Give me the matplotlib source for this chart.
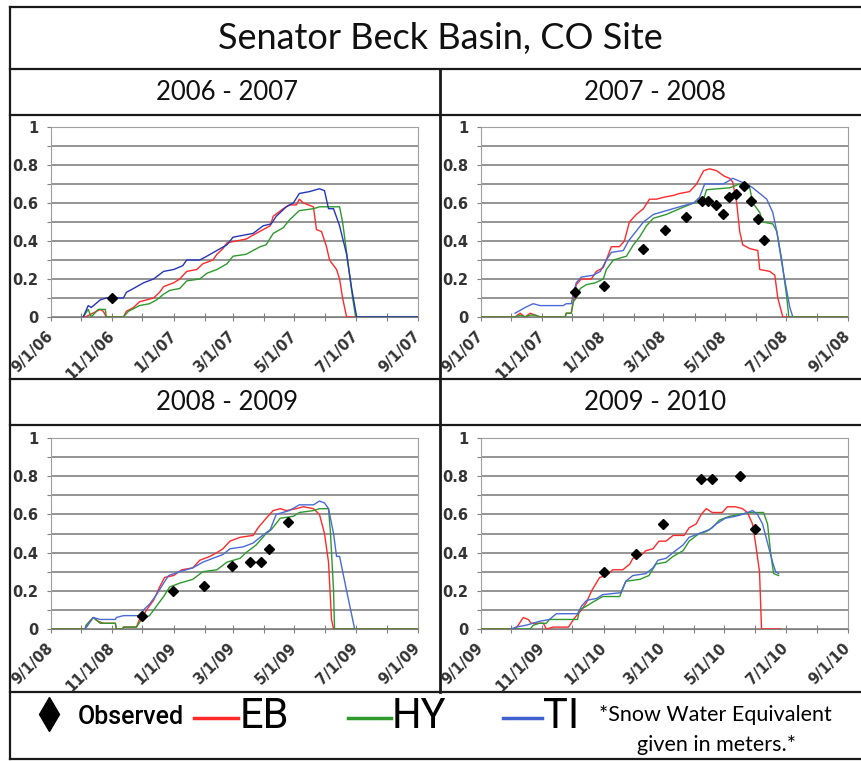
import numpy as np
import matplotlib
matplotlib.use("Agg")
import matplotlib.pyplot as plt
import matplotlib.dates as mdates
from matplotlib.ticker import MultipleLocator, FuncFormatter

# season starts and titles
seasons = ["2006 - 2007", "2007 - 2008", "2008 - 2009", "2009 - 2010"]
season_starts = ["2006-09-01", "2007-09-01", "2008-09-01", "2009-09-01"]

# SWE (m) by day since Sep 1 -- 2006-2007
eb_0607_d = [32, 34, 49, 52, 55, 72, 75, 82, 88, 102, 108, 112, 122, 128, 135, 145, 151, 161, 165, 171, 175,
             184, 194, 204, 211, 218, 221, 231, 237, 244, 247, 251, 261, 264, 269, 274, 277, 284, 287, 290, 294, 365]
eb_0607_v = [0, 0, 0.04, 0.03, 0, 0, 0.03, 0.05, 0.08, 0.10, 0.13, 0.16, 0.18, 0.20, 0.24, 0.25, 0.28, 0.30, 0.33,
             0.36, 0.39, 0.40, 0.41, 0.44, 0.46, 0.48, 0.53, 0.57, 0.59, 0.59, 0.62, 0.60, 0.58, 0.46, 0.45, 0.37,
             0.30, 0.25, 0.20, 0.10, 0, 0]
hy_0607_d = [32, 37, 40, 47, 54, 55, 72, 77, 88, 98, 105, 112, 118, 128, 135, 148, 155, 165, 175, 181, 194, 201,
             208, 214, 221, 231, 237, 247, 261, 267, 287, 290, 295, 300, 303, 365]
hy_0607_v = [0, 0.04, 0, 0.04, 0.04, 0, 0, 0.03, 0.06, 0.07, 0.09, 0.12, 0.14, 0.15, 0.19, 0.20, 0.23, 0.25, 0.28,
             0.32, 0.33, 0.35, 0.37, 0.38, 0.44, 0.47, 0.51, 0.56, 0.57, 0.58, 0.58, 0.50, 0.30, 0.10, 0, 0]
ti_0607_d = [32, 37, 40, 49, 55, 72, 75, 82, 92, 102, 112, 122, 131, 135, 148, 155, 165, 175, 181, 191, 201, 211,
             219, 224, 234, 241, 247, 257, 267, 272, 276, 281, 287, 294, 299, 304, 365]
ti_0607_v = [0, 0.06, 0.05, 0.09, 0.10, 0.10, 0.13, 0.15, 0.18, 0.20, 0.24, 0.25, 0.27, 0.30, 0.30, 0.32, 0.35,
             0.38, 0.42, 0.43, 0.44, 0.48, 0.49, 0.53, 0.58, 0.60, 0.65, 0.66, 0.675, 0.665, 0.57, 0.57, 0.48,
             0.33, 0.15, 0, 0]
obs_0607_d = [61]
obs_0607_v = [0.10]

# 2007-2008
eb_0708_d = [0, 34, 39, 44, 49, 54, 59, 84, 85, 90, 92, 95, 100, 110, 115, 122, 125, 130, 138, 143, 148, 155, 162,
             168, 175, 182, 192, 198, 208, 215, 222, 228, 235, 243, 248, 251, 255, 258, 261, 268, 276, 278, 288,
             293, 296, 301, 366]
eb_0708_v = [0, 0, 0.02, 0, 0.02, 0.01, 0, 0, 0.02, 0.02, 0.08, 0.17, 0.20, 0.20, 0.24, 0.26, 0.30, 0.37, 0.37,
             0.40, 0.50, 0.54, 0.57, 0.62, 0.62, 0.63, 0.64, 0.65, 0.66, 0.70, 0.77, 0.78, 0.77, 0.74, 0.73, 0.71,
             0.60, 0.45, 0.38, 0.36, 0.35, 0.25, 0.24, 0.22, 0.10, 0, 0]
hy_0708_d = [0, 34, 39, 44, 49, 54, 59, 84, 85, 90, 92, 95, 99, 105, 114, 122, 125, 132, 145, 152, 158, 165, 172,
             185, 198, 212, 222, 225, 248, 258, 268, 271, 278, 281, 291, 295, 300, 305, 307, 366]
hy_0708_v = [0, 0, 0.01, 0, 0.01, 0.01, 0, 0, 0.02, 0.02, 0.08, 0.10, 0.15, 0.17, 0.18, 0.20, 0.25, 0.30, 0.32,
             0.38, 0.42, 0.48, 0.52, 0.54, 0.57, 0.60, 0.62, 0.67, 0.68, 0.70, 0.68, 0.60, 0.55, 0.50, 0.49, 0.45,
             0.30, 0.10, 0, 0]
ti_0708_d = [34, 44, 52, 59, 82, 85, 90, 92, 95, 100, 112, 119, 125, 130, 142, 147, 153, 162, 172, 185, 198, 212,
             218, 223, 241, 245, 251, 260, 265, 271, 278, 285, 291, 295, 301, 308, 311]
ti_0708_v = [0.02, 0.05, 0.07, 0.06, 0.06, 0.07, 0.07, 0.12, 0.18, 0.21, 0.22, 0.24, 0.30, 0.34, 0.35, 0.40, 0.44,
             0.50, 0.54, 0.56, 0.58, 0.60, 0.63, 0.70, 0.70, 0.71, 0.73, 0.71, 0.70, 0.68, 0.65, 0.62, 0.55, 0.45,
             0.25, 0.05, 0]
obs_0708_d = [94, 123, 162, 183, 204, 220, 226, 234, 241, 247, 254, 262, 269, 276, 282]
obs_0708_v = [0.13, 0.165, 0.36, 0.46, 0.525, 0.61, 0.61, 0.59, 0.54, 0.63, 0.645, 0.69, 0.61, 0.515, 0.405]

# 2008-2009
eb_0809_d = [0, 34, 35, 42, 47, 52, 64, 65, 71, 72, 85, 88, 92, 95, 102, 108, 113, 122, 130, 141, 148, 158, 165,
             171, 178, 188, 201, 206, 214, 221, 228, 234, 244, 251, 261, 267, 272, 276, 279, 281, 365]
eb_0809_v = [0, 0, 0.02, 0.06, 0.04, 0.03, 0.03, 0, 0, 0.01, 0.01, 0.05, 0.07, 0.10, 0.15, 0.22, 0.27, 0.28, 0.31,
             0.32, 0.36, 0.38, 0.40, 0.42, 0.46, 0.48, 0.49, 0.53, 0.58, 0.62, 0.63, 0.62, 0.63, 0.64, 0.63, 0.60,
             0.50, 0.35, 0.05, 0, 0]
hy_0809_d = [0, 34, 35, 42, 49, 64, 65, 71, 72, 85, 90, 98, 105, 112, 118, 128, 141, 151, 165, 175, 188, 194, 204,
             214, 219, 228, 241, 247, 261, 267, 276, 278, 281, 282, 365]
hy_0809_v = [0, 0, 0.02, 0.06, 0.03, 0.03, 0, 0, 0.01, 0.01, 0.05, 0.07, 0.12, 0.17, 0.22, 0.24, 0.26, 0.30, 0.31,
             0.35, 0.37, 0.40, 0.44, 0.50, 0.52, 0.58, 0.59, 0.61, 0.62, 0.63, 0.63, 0.50, 0.20, 0, 0]
ti_0809_d = [34, 42, 49, 64, 65, 72, 88, 92, 98, 105, 112, 117, 128, 141, 151, 161, 171, 178, 191, 201, 208, 218,
             224, 237, 247, 261, 267, 272, 276, 281, 284, 287, 294, 302]
ti_0809_v = [0, 0.06, 0.05, 0.05, 0.06, 0.07, 0.07, 0.10, 0.13, 0.18, 0.24, 0.28, 0.30, 0.32, 0.35, 0.37, 0.39,
             0.42, 0.43, 0.45, 0.48, 0.52, 0.60, 0.62, 0.65, 0.65, 0.67, 0.66, 0.63, 0.50, 0.38, 0.38, 0.20, 0]
obs_0809_d = [91, 121, 152, 180, 198, 209, 217, 236]
obs_0809_v = [0.068, 0.20, 0.227, 0.332, 0.353, 0.353, 0.418, 0.558]

# 2009-2010
eb_0910_d = [0, 34, 37, 42, 47, 50, 58, 62, 65, 72, 87, 92, 95, 100, 105, 110, 118, 125, 131, 141, 148, 151, 158,
             164, 171, 177, 184, 191, 202, 207, 214, 219, 224, 230, 240, 245, 253, 260, 265, 270, 273, 277, 279, 298]
eb_0910_v = [0, 0, 0.02, 0.06, 0.05, 0.03, 0.03, 0.03, 0, 0.01, 0.01, 0.05, 0.07, 0.10, 0.14, 0.20, 0.27, 0.28,
             0.31, 0.31, 0.34, 0.37, 0.38, 0.41, 0.42, 0.46, 0.46, 0.49, 0.49, 0.53, 0.55, 0.60, 0.63, 0.61, 0.61,
             0.64, 0.64, 0.63, 0.61, 0.55, 0.45, 0.30, 0, 0]
hy_0910_d = [0, 49, 52, 58, 65, 68, 96, 98, 105, 111, 121, 138, 144, 158, 167, 174, 184, 191, 201, 207, 217, 224,
             230, 237, 247, 257, 267, 281, 285, 288, 291, 296]
hy_0910_v = [0, 0, 0.02, 0.03, 0.03, 0.05, 0.05, 0.10, 0.12, 0.14, 0.17, 0.17, 0.25, 0.26, 0.28, 0.34, 0.35, 0.38,
             0.41, 0.46, 0.50, 0.51, 0.53, 0.57, 0.59, 0.60, 0.61, 0.61, 0.55, 0.40, 0.29, 0.28]
ti_0910_d = [30, 35, 45, 58, 68, 75, 96, 100, 105, 115, 121, 139, 144, 151, 164, 171, 176, 184, 191, 201, 207, 217,
             227, 234, 243, 253, 260, 270, 275, 280, 285, 290, 293, 296]
ti_0910_v = [0, 0.01, 0.02, 0.04, 0.05, 0.08, 0.08, 0.12, 0.15, 0.16, 0.18, 0.19, 0.25, 0.28, 0.29, 0.32, 0.36,
             0.37, 0.40, 0.44, 0.48, 0.50, 0.52, 0.55, 0.58, 0.59, 0.60, 0.62, 0.60, 0.55, 0.45, 0.35, 0.30, 0.29]
obs_0910_d = [122, 154, 181, 219, 230, 258, 273]
obs_0910_v = [0.30, 0.394, 0.552, 0.787, 0.786, 0.803, 0.523]

panels = [
    (eb_0607_d, eb_0607_v, hy_0607_d, hy_0607_v, ti_0607_d, ti_0607_v, obs_0607_d, obs_0607_v),
    (eb_0708_d, eb_0708_v, hy_0708_d, hy_0708_v, ti_0708_d, ti_0708_v, obs_0708_d, obs_0708_v),
    (eb_0809_d, eb_0809_v, hy_0809_d, hy_0809_v, ti_0809_d, ti_0809_v, obs_0809_d, obs_0809_v),
    (eb_0910_d, eb_0910_v, hy_0910_d, hy_0910_v, ti_0910_d, ti_0910_v, obs_0910_d, obs_0910_v),
]

RED = "#ff2a2a"
GREEN = "#2e9a2e"
BLUE = ["#2536b8", "#4a6ad8", "#4a6ad8", "#4a6ad8"]
W, H = 862, 761

fig = plt.figure(figsize=(W / 100, H / 100), dpi=100)
fig.patch.set_facecolor("white")

# table frame drawn in pixel coords
frame = fig.add_axes([0, 0, 1, 1])
frame.set_xlim(0, W)
frame.set_ylim(H, 0)
frame.axis("off")
lc = "#1a1a1a"
for y in [7, 69, 115, 379, 425, 692, 759]:
    frame.plot([10, W], [y, y], color=lc, lw=1.6)
frame.plot([10, 10], [7, 759], color=lc, lw=1.6)
frame.plot([440, 440], [69, 692], color=lc, lw=2.0)

frame.text(440, 38, "Senator Beck Basin, CO Site", fontsize=26, family="Lato",
           ha="center", va="center", color="#111111")
header_xy = [(227, 93), (655, 93), (227, 403), (655, 403)]
for (hx, hy), s in zip(header_xy, seasons):
    frame.text(hx, hy, s, fontsize=18.5, family="Lato", ha="center", va="center", color="#111111")

# legend row
frame.plot([49], [714], marker="d", markersize=17, color="black", ls="none")
frame.text(78, 717, "Observed", fontsize=18, family="Roboto", weight="medium", ha="left", va="center")
frame.plot([194, 238], [718, 718], color=RED, lw=2.5)
frame.text(240, 717, "EB", fontsize=30, family="Roboto", ha="left", va="center")
frame.plot([348, 391], [718, 718], color=GREEN, lw=2.5)
frame.text(392, 717, "HY", fontsize=30, family="Roboto", ha="left", va="center")
frame.plot([503, 542], [718, 718], color="#4060d0", lw=2.5)
frame.text(543, 717, "TI", fontsize=30, family="Roboto", ha="left", va="center")
frame.text(715, 715, "*Snow Water Equivalent", fontsize=15.5, family="Lato", ha="center", va="center")
frame.text(717, 745, "given in meters.*", fontsize=15.5, family="Lato", ha="center", va="center")

# plot areas in pixels: left, right, top, bottom
boxes = [(51, 418, 127, 317), (481, 848, 127, 317), (51, 418, 438, 629), (481, 848, 438, 629)]

for i, (l, r, t, b) in enumerate(boxes):
    ax = fig.add_axes([l / W, (H - b) / H, (r - l) / W, (b - t) / H])
    eb_d, eb_v, hy_d, hy_v, ti_d, ti_v, ob_d, ob_v = panels[i]
    start = np.datetime64(season_starts[i])
    end = np.datetime64(str(int(season_starts[i][:4]) + 1) + "-09-01")

    def to_dates(days):
        return start + np.array(days, dtype="timedelta64[D]")

    ax.plot(to_dates(eb_d), eb_v, color=RED, lw=1.0, zorder=3)
    ax.plot(to_dates(hy_d), hy_v, color=GREEN, lw=1.0, zorder=3)
    ax.plot(to_dates(ti_d), ti_v, color=BLUE[i], lw=1.0, zorder=4)
    ax.plot(to_dates(ob_d), ob_v, ls="none", marker="D", markersize=5, color="black", zorder=5)

    ax.set_xlim(start, end)
    ax.set_ylim(0, 1)
    ax.yaxis.set_major_locator(MultipleLocator(0.2))
    ax.yaxis.set_minor_locator(MultipleLocator(0.1))
    ax.yaxis.set_major_formatter(FuncFormatter(lambda v, p: f"{v:g}"))
    ax.grid(axis="y", which="both", color="#767676", lw=1.1, zorder=1)
    ax.xaxis.set_major_locator(mdates.MonthLocator(bymonth=[1, 3, 5, 7, 9, 11]))
    ax.xaxis.set_minor_locator(mdates.MonthLocator())
    ax.xaxis.set_major_formatter(mdates.DateFormatter("%-m/%-d/%y"))
    ax.tick_params(axis="x", which="both", direction="inout", length=6, color="#808080", width=0.8)
    ax.tick_params(axis="y", which="both", direction="out", length=3, color="#808080", width=0.8)
    ax.tick_params(axis="both", labelcolor="#333333")
    ax.tick_params(axis="x", labelsize=10.5, pad=9)
    ax.tick_params(axis="y", labelsize=10.5, pad=6)
    for lab in ax.get_xticklabels():
        lab.set_rotation(45)
        lab.set_ha("right")
        lab.set_va("center")
        lab.set_rotation_mode("anchor")
        lab.set_fontweight("bold")
    for lab in ax.get_yticklabels():
        lab.set_fontweight("bold")
    for s in ax.spines.values():
        s.set_color("#a0a0a0")
        s.set_linewidth(0.8)
    ax.spines["bottom"].set_color("#808080")

fig.savefig("out.png", dpi=100, facecolor="white")
